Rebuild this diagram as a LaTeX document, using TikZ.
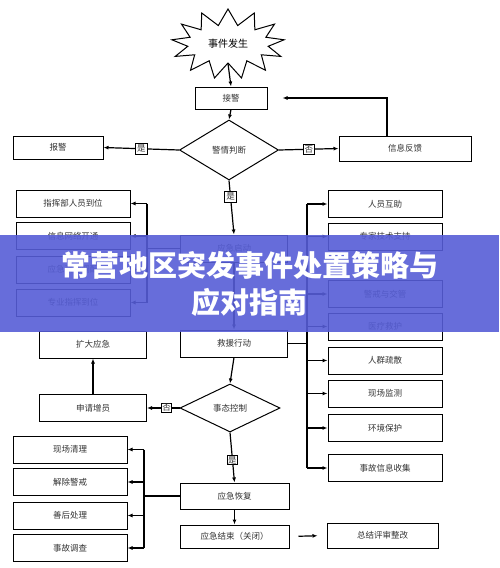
\documentclass[tikz,border=0pt]{standalone}
\usepackage{fontspec}
\newfontfamily\cjk{Noto Sans CJK SC}
\usetikzlibrary{arrows.meta,shapes.geometric,shapes.symbols}
\definecolor{bandblue}{RGB}{86,93,214}
\tikzset{
	box/.style={draw=black, line width=1pt, fill=white, inner sep=0pt, text=black!80, font=\cjk\fontsize{8.5}{10}\selectfont},
	sidebox/.style={box, minimum width=114pt, minimum height=27pt},
	midbox/.style={box, minimum width=107pt, minimum height=27pt},
	lab/.style={draw=black, line width=0.8pt, fill=white, inner sep=1.5pt, text=black!80, font=\cjk\fontsize{8.5}{10}\selectfont},
	judge/.style={diamond, draw=black, line width=1pt, fill=white, inner sep=0pt, text=black!80, font=\cjk\fontsize{8.5}{10}\selectfont},
	arr/.style={line width=1.2pt, -{Latex[length=5pt,width=4pt]}},
	link/.style={line width=1.2pt},
}
\begin{document}
\begin{tikzpicture}[x=1pt, y=-1pt]
	\useasboundingbox (0,0) rectangle (499,568);
	% top: event and alarm
	\node[starburst, starburst points=13, starburst point height=16pt, random starburst=0, draw=black, line width=1pt, fill=white, minimum width=113pt, minimum height=70pt, inner sep=0pt, font=\cjk\fontsize{10}{12}\selectfont] (shijian) at (228,44) {事件发生};
	\node[box, minimum width=72pt, minimum height=22pt] (jiejing) at (231,98) {接警};
	\node[judge, minimum width=99pt, minimum height=60pt] (panduan) at (229,150) {警情判断};
	\node[box, minimum width=90pt, minimum height=23pt] (baojing) at (58,147.5) {报警};
	\node[box, minimum width=132pt, minimum height=25pt] (fankui) at (405,148.5) {信息反馈};
	\draw[arr] (shijian.south) -- (jiejing.north);
	\draw[arr] (jiejing.south) -- (panduan.north);
	\draw[arr] (panduan.west) -- node[lab, pos=0.5] (shi1) {是} (baojing.east);
	\draw[arr] (panduan.east) -- node[lab, pos=0.5] (fou1) {否} (fankui.west);
	\draw[arr, shorten >=15pt] ([xshift=-18pt]fankui.north) |- (jiejing.east);
	% start of response
	\node[midbox] (qidong) at (234,248.5) {应急启动};
	\node[midbox] (jiuyuan) at (234,343.5) {救援行动};
	\draw[arr] (panduan.south) -- node[lab, pos=0.3] (shi2) {是} (qidong.north);
	\draw[arr] (qidong.south) -- (jiuyuan.north);
	% left column
	\coordinate (lbus) at (147,0);
	\node[sidebox] (zhihui) at (73,203.5) {指挥部人员到位};
	\node[sidebox] (wangluo) at (73,236) {信息网络开通};
	\node[sidebox] (ziyuan) at (73,269.5) {应急资源调配};
	\node[sidebox] (zhuanye) at (73,302.5) {专业指挥到位};
	\draw[link] (qidong.west) -- (lbus |- qidong);
	\draw[link] (lbus |- zhihui) -- (lbus |- zhuanye);
	\draw[arr] (lbus |- zhihui) -- (zhihui.east);
	\draw[arr] (lbus |- wangluo) -- (wangluo.east);
	\draw[arr] (lbus |- ziyuan) -- (ziyuan.east);
	\draw[arr] (lbus |- zhuanye) -- (zhuanye.east);
	% right column
	\coordinate (rbus) at (307,0);
	\node[sidebox] (huzhu) at (385,204) {人员互助};
	\node[sidebox] (zhuanjia) at (385,236.5) {专家技术支持};
	\node[sidebox] (jingjie) at (385,294) {警戒与交管};
	\node[sidebox] (yiliao) at (385,326.5) {医疗救护};
	\node[sidebox] (shusan) at (385,360.5) {人群疏散};
	\node[sidebox] (jiance) at (385,393.5) {现场监测};
	\node[sidebox] (huanjing) at (385,428) {环境保护};
	\node[sidebox] (xinxi) at (385,468) {事故信息收集};
	\draw[link] (jiuyuan.east) -- (rbus |- jiuyuan);
	\draw[link] (rbus |- huzhu) -- (rbus |- xinxi);
	\draw[arr] (rbus |- huzhu) -- (huzhu.west);
	\draw[arr] (rbus |- zhuanjia) -- (zhuanjia.west);
	\draw[arr] (rbus |- jingjie) -- (jingjie.west);
	\draw[arr] (rbus |- yiliao) -- (yiliao.west);
	\draw[arr] (rbus |- shusan) -- (shusan.west);
	\draw[arr] (rbus |- jiance) -- (jiance.west);
	\draw[arr] (rbus |- huanjing) -- (huanjing.west);
	\draw[arr] (rbus |- xinxi) -- (xinxi.west);
	% control of the event
	\node[judge, minimum width=100pt, minimum height=48pt] (kongzhi) at (230,408) {事态控制};
	\node[midbox] (shenqing) at (93,408) {申请增员};
	\node[midbox] (kuoda) at (93,344.5) {扩大应急};
	\draw[arr] (jiuyuan.south) -- (kongzhi.north);
	\draw[arr] (kongzhi.west) -- node[lab, pos=0.4, inner sep=1pt] (fou2) {否} (shenqing.east);
	\draw[arr] (shenqing.north) -- (kuoda.south);
	% recovery and end
	\node[box, minimum width=109pt, minimum height=26pt] (huifu) at (234.5,496) {应急恢复};
	\node[box, minimum width=109pt, minimum height=23pt] (jieshu) at (234.5,536.5) {应急结束（关闭）};
	\node[box, minimum width=111pt, minimum height=25pt] (zongjie) at (382.5,535.5) {总结评审整改};
	\draw[arr] (kongzhi.south) -- node[lab, pos=0.55, inner sep=1pt] (shi3) {是} (huifu.north);
	\draw[arr] (huifu.south) -- (jieshu.north);
	\draw[arr, shorten <=9pt, shorten >=9pt] (jieshu.east) -- (zongjie.west);
	% bottom left column
	\coordinate (bbus) at (144,0);
	\node[sidebox] (qingli) at (70,449.5) {现场清理};
	\node[sidebox] (jiechu) at (70,482) {解除警戒};
	\node[sidebox] (shanhou) at (70,515.5) {善后处理};
	\node[sidebox] (diaocha) at (70,548) {事故调查};
	\draw[link] (huifu.west) -- (bbus |- huifu);
	\draw[link] (bbus |- qingli) -- (bbus |- diaocha);
	\draw[arr] (bbus |- qingli) -- (qingli.east);
	\draw[arr] (bbus |- jiechu) -- (jiechu.east);
	\draw[arr] (bbus |- shanhou) -- (shanhou.east);
	\draw[arr] (bbus |- diaocha) -- (diaocha.east);
	% title band
	\fill[bandblue, fill opacity=0.9] (0,235) rectangle (499,332);
	\node[align=center, text=white, font=\cjk\bfseries\fontsize{29}{37}\selectfont] (title) at (250,284) {常营地区突发事件处置策略与\\应对指南};
\end{tikzpicture}
\end{document}
